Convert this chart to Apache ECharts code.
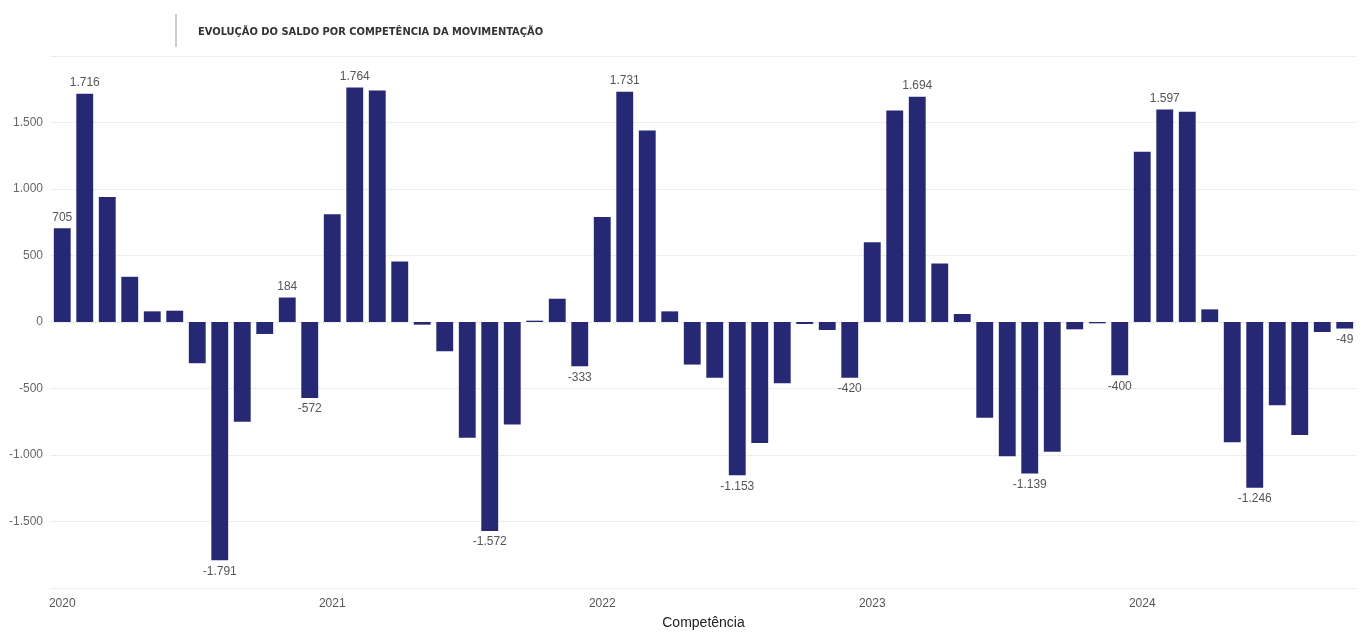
<!DOCTYPE html>
<html>
<head>
<meta charset="utf-8">
<script src="https://cdn.jsdelivr.net/npm/echarts@6/dist/echarts.min.js"></script>
<style>html,body{margin:0;padding:0;background:#fff}#chart{width:1365px;height:635px}</style>
</head>
<body>
<div id="chart"></div>
<script>
let years = ['2020','2021','2022','2023','2024']
let values = [
  705,1716,940,340,80,85,-310,-1791,-750,-90,184,-572,
  810,1764,1740,455,-20,-220,-870,-1572,-770,10,175,-333,
  790,1731,1440,80,-320,-420,-1153,-910,-460,-15,-60,-420,
  600,1590,1694,440,60,-720,-1010,-1139,-975,-55,-10,-400,
  1280,1597,1580,95,-905,-1246,-625,-850,-75,-49
]
let labelled = [0,1,7,10,11,13,19,23,25,30,35,38,43,47,49,53,57]

let months = []
years.forEach(y => { for (let m = 1; m <= 12; m++) months.push(y + '-' + m) })
months = months.slice(0, values.length)

function fmt(v){
  return v.toLocaleString('de-DE')
}

let chart = echarts.init(document.getElementById('chart'))
chart.setOption({
  animation:false,
  title:{
    text:'EVOLUÇÃO DO SALDO POR COMPETÊNCIA DA MOVIMENTAÇÃO',
    left:193, top:22,
    textStyle:{fontSize:11, fontWeight:'bold', color:'#333', fontFamily:'DejaVu Sans Condensed, Roboto'}
  },
  graphic:[{type:'line', shape:{x1:176,y1:14,x2:176,y2:47}, style:{stroke:'#999', lineWidth:1}}],
  grid:{left:51, right:9, top:56, bottom:47},
  xAxis:{
    type:'category',
    data:months,
    name:'Competência',
    nameLocation:'middle',
    nameGap:28,
    nameTextStyle:{fontSize:14, color:'#222'},
    axisLine:{show:false},
    axisTick:{show:false},
    axisLabel:{
      interval:0, color:'#555', fontSize:12, margin:10,
      formatter:function(v){ return v.endsWith('-1') ? v.split('-')[0] : '' }
    }
  },
  yAxis:{
    type:'value',
    min:-2000, max:2000, interval:500,
    axisLabel:{
      color:'#666', fontSize:12,
      formatter:function(v){ return Math.abs(v) === 2000 ? '' : fmt(v) }
    },
    splitLine:{lineStyle:{type:'dotted', color:'#ddd'}}
  },
  series:[{
    type:'bar',
    barCategoryGap:'25%',
    itemStyle:{color:'#262873'},
    data:values.map((v,i) => ({
      value:v,
      label:{
        show:labelled.indexOf(i) >= 0,
        position:v >= 0 ? 'top' : 'bottom',
        color:'#555', fontSize:12,
        formatter:function(p){ return fmt(p.value) }
      }
    }))
  }]
})
</script>
</body>
</html>
